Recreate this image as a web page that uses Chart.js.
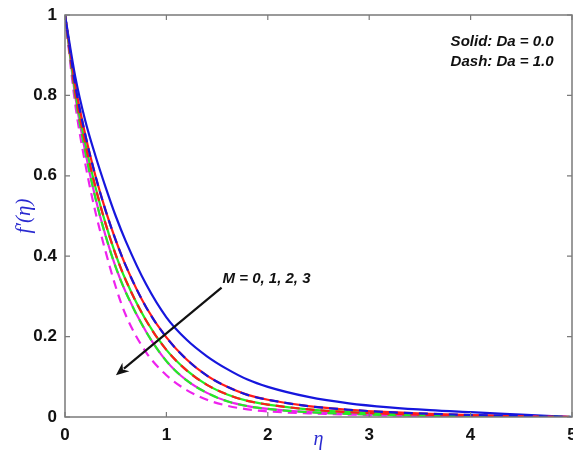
<!DOCTYPE html>
<html>
<head>
<meta charset="utf-8">
<script src="https://cdn.jsdelivr.net/npm/chart.js@4.4.1/dist/chart.umd.min.js"></script>
<style>
html,body{margin:0;padding:0;background:#fff;}
#wrap{width:573px;height:452px;position:relative;}
</style>
</head>
<body>
<div id="wrap"><canvas id="c" width="573" height="452"></canvas></div>
<script>
// eta grid (x values)
const eta = [0, 0.1, 0.2, 0.3, 0.4, 0.5, 0.6, 0.8, 1.0, 1.2, 1.4, 1.6, 1.8, 2.0, 2.4, 2.8, 3.2, 3.6, 4.0, 4.5, 5.0];
// Solid: Da = 0.0  (M = 0,1,2,3)
const solidM0 = [1, 0.848, 0.737, 0.650, 0.572, 0.500, 0.437, 0.330, 0.248, 0.192, 0.151, 0.119, 0.093, 0.075, 0.050, 0.034, 0.024, 0.017, 0.012, 0.006, 0];
const solidM1 = [1, 0.827, 0.702, 0.600, 0.514, 0.440, 0.376, 0.273, 0.198, 0.143, 0.103, 0.075, 0.055, 0.043, 0.027, 0.018, 0.012, 0.008, 0.005, 0.0025, 0];
const solidM2 = [1, 0.810, 0.680, 0.572, 0.481, 0.404, 0.340, 0.240, 0.167, 0.116, 0.080, 0.056, 0.040, 0.031, 0.019, 0.012, 0.008, 0.005, 0.003, 0.0015, 0];
const solidM3 = [1, 0.800, 0.660, 0.545, 0.451, 0.373, 0.310, 0.212, 0.139, 0.091, 0.060, 0.039, 0.027, 0.020, 0.012, 0.008, 0.005, 0.003, 0.002, 0.001, 0];
// Dash: Da = 1.0  (M = 0,1,2,3)
const dashM0 = [1, 0.827, 0.702, 0.600, 0.514, 0.440, 0.376, 0.273, 0.198, 0.143, 0.103, 0.075, 0.055, 0.043, 0.027, 0.018, 0.012, 0.008, 0.005, 0.0025, 0];
const dashM1 = [1, 0.810, 0.680, 0.572, 0.481, 0.404, 0.340, 0.240, 0.167, 0.116, 0.080, 0.056, 0.040, 0.031, 0.019, 0.012, 0.008, 0.005, 0.003, 0.0015, 0];
const dashM2 = [1, 0.800, 0.660, 0.545, 0.451, 0.373, 0.310, 0.212, 0.139, 0.091, 0.060, 0.039, 0.027, 0.020, 0.012, 0.008, 0.005, 0.003, 0.002, 0.001, 0];
const dashM3 = [1, 0.780, 0.630, 0.510, 0.412, 0.324, 0.253, 0.161, 0.104, 0.067, 0.043, 0.028, 0.019, 0.014, 0.009, 0.006, 0.004, 0.0025, 0.0015, 0.001, 0];
const xTicks = [0, 1, 2, 3, 4, 5];
const yTicks = [0, 0.2, 0.4, 0.6, 0.8, 1];

const colors = ['#1616dd', '#ff1a1a', '#22ee22', '#ee22ee'];
const toPts = arr => arr.map((v, i) => ({x: eta[i], y: v}));
function ds(arr, color, dashed) {
  return {
    data: toPts(arr), borderColor: color, borderWidth: 2.2, pointRadius: 0,
    borderDash: dashed ? [9, 6] : [], cubicInterpolationMode: 'monotone', fill: false,
    order: dashed ? 1 : 2
  };
}
const datasets = [
  ds(solidM0, colors[0], false), ds(solidM1, colors[1], false),
  ds(solidM2, colors[2], false), ds(solidM3, colors[3], false),
  ds(dashM0, colors[0], true), ds(dashM1, colors[1], true),
  ds(dashM2, colors[2], true), ds(dashM3, colors[3], true)
];

const boxPlugin = {
  id: 'boxPlugin',
  afterDatasetsDraw(chart) {
    const {ctx, chartArea: a, scales: {x, y}} = chart;
    ctx.save();
    ctx.strokeStyle = '#7a7a7a';
    ctx.lineWidth = 1.5;
    ctx.strokeRect(a.left, a.top, a.right - a.left, a.bottom - a.top);
    ctx.lineWidth = 1.2;
    ctx.beginPath();
    xTicks.forEach(t => {
      const px = x.getPixelForValue(t);
      ctx.moveTo(px, a.bottom); ctx.lineTo(px, a.bottom - 5);
      ctx.moveTo(px, a.top); ctx.lineTo(px, a.top + 5);
    });
    yTicks.forEach(t => {
      const py = y.getPixelForValue(t);
      ctx.moveTo(a.left, py); ctx.lineTo(a.left + 5, py);
      ctx.moveTo(a.right, py); ctx.lineTo(a.right - 5, py);
    });
    ctx.stroke();

    // annotations
    ctx.fillStyle = '#111';
    ctx.font = 'italic bold 15px "Liberation Sans", Arial, sans-serif';
    ctx.textBaseline = 'alphabetic';
    ctx.textAlign = 'left';
    ctx.fillText('M = 0, 1, 2, 3', x.getPixelForValue(1.554), y.getPixelForValue(0.333));
    ctx.fillText('Solid: Da = 0.0', x.getPixelForValue(3.803), y.getPixelForValue(0.922));
    ctx.fillText('Dash: Da = 1.0', x.getPixelForValue(3.803), y.getPixelForValue(0.872));

    // arrow
    const x1 = x.getPixelForValue(1.544), y1 = y.getPixelForValue(0.322);
    const x2 = x.getPixelForValue(0.502), y2 = y.getPixelForValue(0.104);
    const ang = Math.atan2(y2 - y1, x2 - x1);
    const hl = 13, hw = 5.5;
    ctx.strokeStyle = '#111';
    ctx.lineWidth = 2.2;
    ctx.beginPath();
    ctx.moveTo(x1, y1);
    ctx.lineTo(x2 - Math.cos(ang) * hl * 0.8, y2 - Math.sin(ang) * hl * 0.8);
    ctx.stroke();
    ctx.beginPath();
    ctx.moveTo(x2, y2);
    ctx.lineTo(x2 - Math.cos(ang) * hl - Math.sin(ang) * hw, y2 - Math.sin(ang) * hl + Math.cos(ang) * hw);
    ctx.lineTo(x2 - Math.cos(ang) * hl * 0.7, y2 - Math.sin(ang) * hl * 0.7);
    ctx.lineTo(x2 - Math.cos(ang) * hl + Math.sin(ang) * hw, y2 - Math.sin(ang) * hl - Math.cos(ang) * hw);
    ctx.closePath();
    ctx.fillStyle = '#111';
    ctx.fill();
    ctx.restore();
  }
};

const tickFont = {family: '"Liberation Sans", Arial, sans-serif', size: 17, weight: 'bold'};

new Chart(document.getElementById('c'), {
  type: 'line',
  data: {datasets},
  options: {
    responsive: false,
    animation: false,
    plugins: {legend: {display: false}, tooltip: {enabled: false}},
    layout: {padding: {top: 15, right: 1, left: 0, bottom: 0}},
    scales: {
      x: {
        type: 'linear', min: 0, max: 5,
        afterBuildTicks: s => { s.ticks = xTicks.map(v => ({value: v})); },
        ticks: {font: tickFont, color: '#111', padding: 8, maxRotation: 0, autoSkip: false},
        grid: {display: false, drawTicks: false},
        border: {display: false},
        title: {display: true, text: 'η', color: '#2a2ad0',
          font: {family: '"Liberation Serif", "Times New Roman", serif', size: 20, style: 'italic'},
          padding: {top: 0, bottom: 0}},
        afterFit: s => { s.height = 35; s.paddingLeft = 0; s.paddingRight = 0; }
      },
      y: {
        type: 'linear', min: 0, max: 1,
        afterBuildTicks: s => { s.ticks = yTicks.map(v => ({value: v})); },
        ticks: {font: tickFont, color: '#111', padding: 8, autoSkip: false,
          callback: v => String(Math.round(v * 10) / 10)},
        grid: {display: false, drawTicks: false},
        border: {display: false},
        title: {display: true, text: 'f′(η)', color: '#2a2ad0',
          font: {family: '"Liberation Serif", "Times New Roman", serif', size: 21, style: 'italic'},
          padding: {top: 12, bottom: 0}},
        afterFit: s => { s.width = 65; s.paddingTop = 0; s.paddingBottom = 0; }
      }
    }
  },
  plugins: [boxPlugin]
});
</script>
</body>
</html>
